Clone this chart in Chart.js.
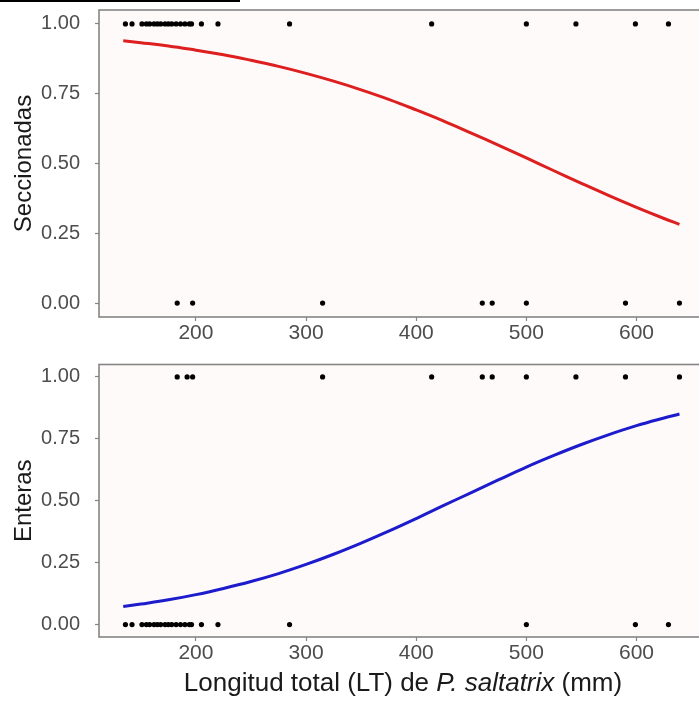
<!DOCTYPE html>
<html>
<head>
<meta charset="utf-8">
<script src="https://cdn.jsdelivr.net/npm/chart.js@4.4.1/dist/chart.umd.min.js"></script>
<style>
  html, body { margin: 0; padding: 0; background: #ffffff; overflow: hidden; width: 699px; height: 702px; }
  .panel { position: absolute; left: 0; }
  #topWrap { top: 0; width: 760px; height: 345px; }
  #botWrap { top: 350px; width: 760px; height: 352px; }
  #strip { position: absolute; left: 0; top: 0; width: 240px; height: 2px; background: #000; }
</style>
</head>
<body>
<div id="topWrap" class="panel"><canvas id="topChart"></canvas></div>
<div id="botWrap" class="panel"><canvas id="botChart"></canvas></div>
<div id="strip"></div>
<script>
// fish length (mm) of observations
const seccOnes = [136, 142, 151, 155, 158, 162, 165, 168, 172, 175, 178, 182, 186, 190, 194, 196, 205, 220, 285, 414, 500, 545, 599, 629];
const seccZeros = [183, 197, 315, 460, 469, 500, 590, 639];
const entOnes = [183, 192, 197, 315, 414, 460, 469, 500, 545, 590, 639];
const entZeros = [136, 142, 151, 155, 158, 162, 165, 168, 172, 175, 178, 182, 186, 190, 194, 196, 205, 220, 285, 500, 599, 629];

// fitted curves
const curveX = [134, 150, 175, 200, 225, 250, 275, 300, 325, 350, 375, 400, 425, 450, 475, 500, 525, 550, 575, 600, 625, 639];
const seccFit = [0.940, 0.933, 0.921, 0.906, 0.890, 0.870, 0.848, 0.823, 0.795, 0.764, 0.730, 0.692, 0.652, 0.609, 0.565, 0.520, 0.474, 0.429, 0.385, 0.343, 0.303, 0.282];
const entFit = [0.073, 0.083, 0.100, 0.121, 0.146, 0.174, 0.206, 0.243, 0.284, 0.329, 0.377, 0.428, 0.481, 0.533, 0.585, 0.636, 0.683, 0.727, 0.767, 0.803, 0.834, 0.850];

const yTicks = [0, 0.25, 0.5, 0.75, 1];
const xTicks = [200, 300, 400, 500, 600];

const tickGrey = '#4d4d4d';
const fontFam = '"Liberation Sans", Arial, sans-serif';

const panelBg = {
  id: 'panelBg',
  beforeDraw(chart) {
    const { ctx, chartArea: a } = chart;
    ctx.save();
    ctx.fillStyle = '#fffafa';
    ctx.fillRect(a.left, a.top, a.right - a.left, a.bottom - a.top);
    ctx.restore();
  },
  afterDraw(chart) {
    const { ctx, chartArea: a } = chart;
    ctx.save();
    ctx.strokeStyle = '#858585';
    ctx.lineWidth = 1.6;
    ctx.strokeRect(a.left, a.top, a.right - a.left, a.bottom - a.top);
    ctx.restore();
  }
};

const xTitle = {
  id: 'xTitle',
  afterDraw(chart) {
    if (!chart.options.plugins.xTitle || !chart.options.plugins.xTitle.show) return;
    const { ctx, chartArea: a } = chart;
    const parts = [
      ['Longitud total (LT) de ', 'normal'],
      ['P. saltatrix', 'italic'],
      [' (mm)', 'normal']
    ];
    ctx.save();
    ctx.fillStyle = '#1a1a1a';
    ctx.textBaseline = 'middle';
    let total = 0;
    parts.forEach(p => { ctx.font = p[1] + ' 26px ' + fontFam; total += ctx.measureText(p[0]).width; });
    let x = (a.left + a.right) / 2 - total / 2;
    const y = a.bottom + 47;
    parts.forEach(p => {
      ctx.font = p[1] + ' 26px ' + fontFam;
      ctx.fillText(p[0], x, y);
      x += ctx.measureText(p[0]).width;
    });
    ctx.restore();
  }
};

function pts(xs, y) { return xs.map(x => ({ x: x, y: y })); }

function makeChart(id, ones, zeros, fitY, color, yLabel, padTop, xHeight, showTitle) {
  return new Chart(document.getElementById(id), {
    type: 'scatter',
    data: {
      datasets: [
        {
          type: 'line',
          data: curveX.map((x, i) => ({ x: x, y: fitY[i] })),
          borderColor: color,
          borderWidth: 3,
          pointRadius: 0,
          tension: 0.4,
          fill: false
        },
        { data: pts(ones, 1), backgroundColor: '#000', borderWidth: 0, pointRadius: 2.6 },
        { data: pts(zeros, 0), backgroundColor: '#000', borderWidth: 0, pointRadius: 2.6 }
      ]
    },
    options: {
      responsive: true,
      maintainAspectRatio: false,
      animation: false,
      layout: { padding: { top: padTop, right: 53, left: 0, bottom: 0 } },
      plugins: { legend: { display: false }, tooltip: { enabled: false }, xTitle: { show: showTitle } },
      scales: {
        x: {
          type: 'linear',
          min: 112,
          max: 664,
          afterBuildTicks(s) { s.ticks = xTicks.map(v => ({ value: v })); },
          afterFit(s) { s.height = xHeight; },
          grid: { drawOnChartArea: false, color: '#858585', tickLength: 4, tickWidth: 1.2 },
          border: { display: false },
          ticks: { color: tickGrey, font: { family: fontFam, size: 21 }, padding: 0, maxRotation: 0 }
        },
        y: {
          min: -0.05,
          max: 1.05,
          afterBuildTicks(s) { s.ticks = yTicks.map(v => ({ value: v })); },
          afterFit(s) { s.width = 99; s.paddingTop = 0; s.paddingBottom = 0; },
          grid: { drawOnChartArea: false, color: '#858585', tickLength: 4, tickWidth: 1.2 },
          border: { display: false },
          ticks: { color: tickGrey, font: { family: fontFam, size: 20 }, padding: 15, callback: v => v.toFixed(2) },
          title: { display: true, text: yLabel, color: '#1a1a1a', font: { family: fontFam, size: 24 }, padding: { top: 10, bottom: 0 } }
        }
      }
    },
    plugins: [panelBg, xTitle]
  });
}

makeChart('topChart', seccOnes, seccZeros, seccFit, '#dd1f1f', 'Seccionadas', 10, 28, false);
makeChart('botChart', entOnes, entZeros, entFit, '#1c1ccc', 'Enteras', 14.5, 65, true);
</script>
</body>
</html>
